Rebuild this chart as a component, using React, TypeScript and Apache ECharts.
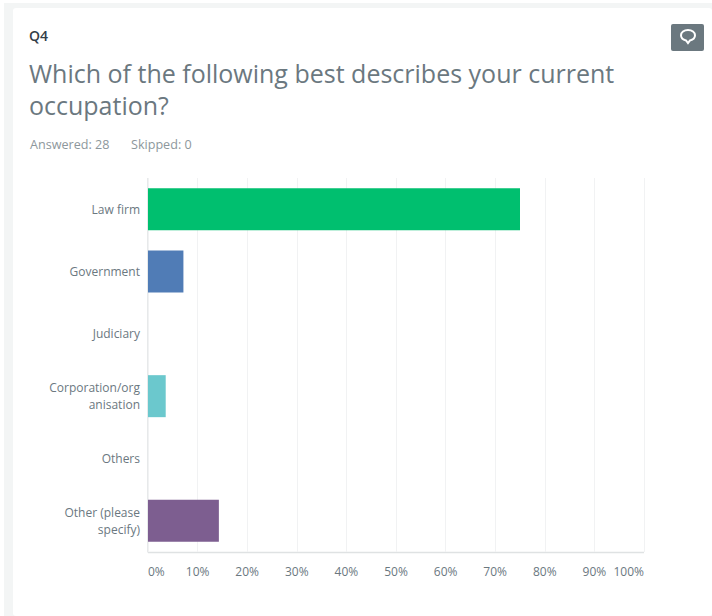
import React, { useEffect, useRef } from "react";
import * as echarts from "echarts";

const categories = [
  "Law firm",
  "Government",
  "Judiciary",
  "Corporation/org\nanisation",
  "Others",
  "Other (please\nspecify)",
];
const percentages = [75, 7.14, 0, 3.57, 0, 14.29];
const barColors = ["#00bf6f", "#507cb6", "#6bc8cd", "#6bc8cd", "#dbdbdb", "#7d5e90"];
const questionId = "Q4";
const questionLines = ["Which of the following best describes your current", "occupation?"];
const answeredText = "Answered: 28";
const skippedText = "Skipped: 0";

const FONT = "'Open Sans', 'Noto Sans', sans-serif";

// Speech-bubble glyph shown on the comment button.
echarts.graphic.registerShape(
  "commentBubble",
  echarts.graphic.extendPath(
    "M8 1C4 1 1 3.4 1 6.3 1 8.8 3.2 10.8 6 11.4L8 14 10 11.4C12.8 10.8 15 8.8 15 6.3 15 3.4 12 1 8 1Z",
    {}
  )
);

export default function App() {
  const ref = useRef<HTMLDivElement>(null);

  useEffect(() => {
    const chart = echarts.init(ref.current!, undefined, { renderer: "svg" });
    chart.setOption({
      animation: false,
      backgroundColor: "#ffffff",
      grid: { left: 148, right: 68, top: 178, bottom: 64 },
      xAxis: {
        type: "value",
        min: 0,
        max: 100,
        interval: 10,
        axisLine: { show: false },
        axisTick: { show: false },
        splitLine: { show: true, lineStyle: { color: "#f1f2f3", width: 1 } },
        axisLabel: {
          formatter: "{value}%",
          color: "#6b787f",
          fontFamily: FONT,
          fontSize: 12,
          margin: 13,
          alignMinLabel: "left",
          alignMaxLabel: "right",
        },
      },
      yAxis: {
        type: "category",
        inverse: true,
        data: categories,
        axisTick: { show: false },
        axisLine: { show: false },
        axisLabel: {
          color: "#6b787f",
          fontFamily: FONT,
          fontSize: 12,
          lineHeight: 16.5,
          margin: 8,
          align: "right",
        },
      },
      series: [
        {
          type: "bar",
          barWidth: 42,
          data: percentages.map((value, i) => ({
            value,
            itemStyle: { color: barColors[i] },
          })),
        },
      ],
      graphic: [
        // Page backdrop framing the white card.
        {
          type: "group",
          silent: true,
          z: -10,
          children: [
            { type: "rect", shape: { x: 4, y: 3, width: 708, height: 613 }, style: { fill: "#f3f5f5" } },
            { type: "rect", shape: { x: 13, y: 8, width: 699, height: 608, r: 3 }, style: { fill: "#ffffff" } },
          ],
        },
        // Axis lines sit above the bars' base.
        {
          type: "group",
          silent: true,
          z: 10,
          children: [
            { type: "line", shape: { x1: 148, y1: 178, x2: 148, y2: 552.5 }, style: { stroke: "#dfe2e3", lineWidth: 1.5 } },
            { type: "line", shape: { x1: 148, y1: 552.5, x2: 644, y2: 552.5 }, style: { stroke: "#dfe2e3", lineWidth: 1.5 } },
          ],
        },
        { type: "text", x: 29, y: 28, style: { text: questionId, fill: "#333e48", font: `600 14px ${FONT}` } },
        { type: "text", x: 29, y: 60, style: { text: questionLines[0], fill: "#6b787f", font: `400 25px ${FONT}` } },
        { type: "text", x: 29, y: 92, style: { text: questionLines[1], fill: "#6b787f", font: `400 25px ${FONT}` } },
        { type: "text", x: 30, y: 138, style: { text: answeredText, fill: "#8d979c", font: `400 12.6px ${FONT}` } },
        { type: "text", x: 131, y: 138, style: { text: skippedText, fill: "#8d979c", font: `400 12.6px ${FONT}` } },
        // Comment button.
        {
          type: "rect",
          shape: { x: 671, y: 24, width: 33, height: 27, r: 2 },
          style: { fill: "#6b787f" },
        },
        {
          type: "commentBubble",
          x: 680,
          y: 29,
          style: { fill: "none", stroke: "#ffffff", lineWidth: 2 },
        },
      ],
    });
    return () => chart.dispose();
  }, []);

  return <div ref={ref} style={{ position: "fixed", left: 0, top: 0, width: 712, height: 616 }} />;
}
